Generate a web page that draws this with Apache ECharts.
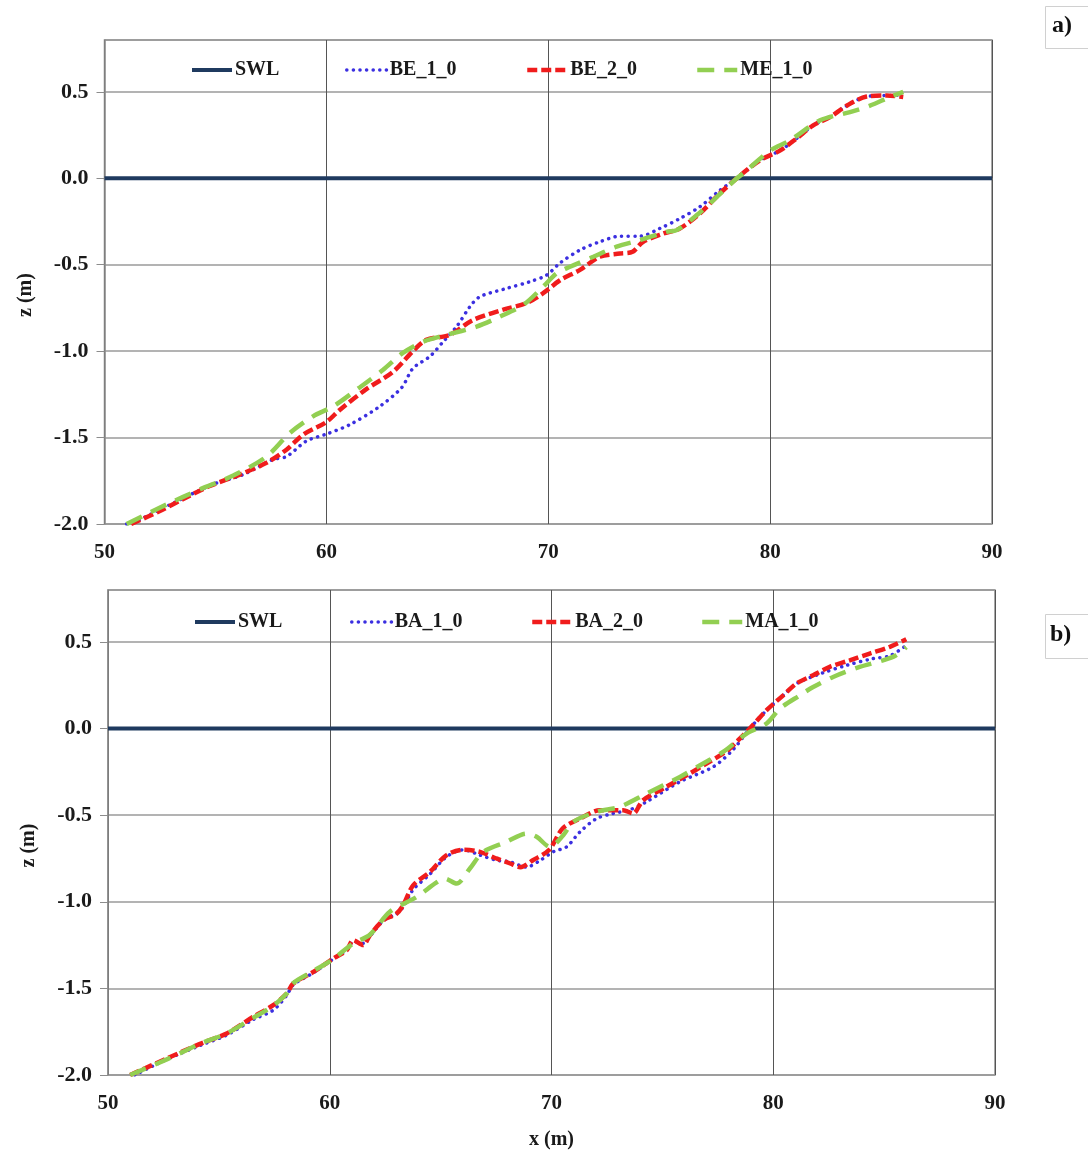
<!DOCTYPE html>
<html>
<head>
<meta charset="utf-8">
<script src="https://cdn.jsdelivr.net/npm/echarts@6/dist/echarts.min.js"></script>
<style>
html,body{margin:0;padding:0;background:#fff;}
#chart{width:1088px;height:1151px;}
</style>
</head>
<body>
<div id="chart"></div>
<script>
// ---------- data (a) ----------
const swlX = [50, 90];
const swlZ = [0, 0];

const be10X = [51.0, 51.5, 53.4, 54.9, 56.25, 57.6, 58.2, 59.1, 60.0, 61.06, 62.4, 63.4, 63.9, 64.67, 65.27, 65.87, 66.47, 66.92, 68.13, 69.18, 69.93, 70.53, 71.43, 72.33, 73.23, 74.13, 75.03, 75.93, 76.83, 77.73, 78.5, 79.54, 80.44, 81.19, 81.94, 82.7, 83.45, 84.35, 85.25, 86.0];
const be10Z = [-2.0, -1.98, -1.86, -1.77, -1.714, -1.627, -1.61, -1.52, -1.48, -1.425, -1.32, -1.21, -1.1, -1.03, -0.945, -0.858, -0.743, -0.685, -0.637, -0.598, -0.56, -0.49, -0.415, -0.367, -0.335, -0.335, -0.29, -0.233, -0.165, -0.07, 0.0, 0.104, 0.16, 0.23, 0.306, 0.354, 0.42, 0.473, 0.479, 0.48];

const be20X = [51.2, 52.5, 53.55, 54.75, 56.1, 57.3, 58.2, 58.96, 60.0, 60.6, 61.8, 63.0, 63.9, 64.5, 65.57, 66.6, 67.97, 69.0, 69.77, 70.53, 71.43, 72.33, 73.23, 73.8, 74.28, 75.18, 75.93, 76.83, 77.73, 78.5, 79.54, 80.44, 81.19, 81.94, 82.7, 83.45, 84.35, 85.25, 86.0];
const be20Z = [-2.0, -1.925, -1.855, -1.78, -1.714, -1.646, -1.57, -1.483, -1.41, -1.34, -1.22, -1.12, -1.0, -0.935, -0.905, -0.82, -0.76, -0.723, -0.665, -0.59, -0.53, -0.454, -0.435, -0.425, -0.367, -0.32, -0.29, -0.204, -0.088, 0.0, 0.104, 0.16, 0.23, 0.306, 0.354, 0.42, 0.473, 0.479, 0.47];

const me10X = [51.0, 52.8, 54.3, 55.8, 57.3, 58.36, 59.4, 60.3, 61.5, 62.56, 63.45, 64.37, 65.42, 66.77, 67.82, 68.87, 69.77, 70.38, 70.98, 72.03, 73.08, 74.13, 75.33, 75.79, 76.7, 77.6, 78.5, 78.8, 80.0, 80.9, 82.25, 83.6, 84.5, 85.4, 86.0];
const me10Z = [-2.0, -1.887, -1.80, -1.72, -1.61, -1.473, -1.377, -1.32, -1.21, -1.108, -1.01, -0.945, -0.906, -0.858, -0.80, -0.733, -0.627, -0.55, -0.512, -0.454, -0.396, -0.358, -0.31, -0.30, -0.213, -0.108, 0.0, 0.03, 0.16, 0.22, 0.335, 0.383, 0.42, 0.47, 0.5];

// ---------- data (b) ----------
const ba10X = [51.2, 52.65, 54.15, 55.35, 56.55, 57.45, 58.06, 58.35, 59.26, 60.16, 60.76, 61.06, 61.5, 61.81, 62.41, 63.0, 63.31, 63.76, 64.52, 65.27, 66.02, 66.77, 67.52, 68.14, 68.87, 69.5, 70.1, 70.68, 71.28, 72.03, 72.78, 73.5, 74.28, 75.78, 77.29, 78.2, 78.94, 79.7, 80.45, 81.05, 82.2, 83.3, 84.5, 85.25, 86.0];
const ba10Z = [-2.0, -1.91, -1.83, -1.77, -1.68, -1.626, -1.54, -1.48, -1.41, -1.33, -1.28, -1.23, -1.24, -1.2, -1.11, -1.07, -1.03, -0.93, -0.84, -0.74, -0.70, -0.73, -0.76, -0.77, -0.80, -0.76, -0.71, -0.683, -0.597, -0.52, -0.49, -0.47, -0.423, -0.308, -0.221, -0.12, 0.0, 0.106, 0.192, 0.26, 0.32, 0.365, 0.404, 0.42, 0.48];

const ba20X = [51.0, 52.65, 54.15, 55.35, 56.55, 57.45, 58.06, 58.35, 59.26, 60.16, 60.76, 61.06, 61.5, 61.81, 62.41, 63.0, 63.31, 63.76, 64.52, 65.27, 66.02, 66.77, 67.52, 68.14, 68.6, 69.16, 69.9, 70.5, 71.28, 72.18, 73.23, 73.68, 74.13, 75.04, 76.09, 76.99, 77.9, 78.42, 78.94, 79.7, 80.45, 81.05, 81.8, 82.55, 83.45, 84.35, 85.26, 86.0];
const ba20Z = [-2.0, -1.905, -1.82, -1.76, -1.664, -1.597, -1.53, -1.472, -1.405, -1.328, -1.28, -1.222, -1.25, -1.193, -1.107, -1.07, -1.02, -0.905, -0.827, -0.73, -0.70, -0.712, -0.75, -0.779, -0.80, -0.76, -0.70, -0.577, -0.52, -0.472, -0.472, -0.49, -0.414, -0.346, -0.27, -0.202, -0.13, -0.067, 0.0, 0.106, 0.192, 0.26, 0.308, 0.356, 0.394, 0.433, 0.472, 0.516];

const ma10X = [51.0, 52.65, 54.15, 55.35, 56.55, 57.45, 58.06, 58.35, 59.26, 60.16, 61.06, 61.81, 62.71, 63.92, 64.8, 65.19, 65.72, 66.32, 66.92, 67.97, 68.87, 69.33, 69.93, 70.53, 70.98, 72.03, 73.08, 74.29, 75.79, 76.7, 77.74, 78.8, 79.7, 80.3, 81.2, 81.8, 82.7, 83.9, 84.95, 85.5, 86.0];
const ma10Z = [-2.0, -1.91, -1.82, -1.76, -1.67, -1.6, -1.53, -1.47, -1.40, -1.33, -1.24, -1.19, -1.058, -0.972, -0.89, -0.866, -0.895, -0.808, -0.712, -0.654, -0.606, -0.625, -0.683, -0.616, -0.539, -0.481, -0.452, -0.375, -0.279, -0.212, -0.135, -0.029, 0.029, 0.115, 0.192, 0.24, 0.298, 0.356, 0.394, 0.42, 0.47];

const xTicks = [50, 60, 70, 80, 90];
const zTicks = [-2.0, -1.5, -1.0, -0.5, 0.0, 0.5];

// ---------- build ----------
const pair = (xs, zs) => xs.map((x, i) => [x, zs[i]]);
const FONT = 'Liberation Serif';
const txt = {fontFamily: FONT, fontWeight: 'bold', fontSize: 21, color: '#1a1a1a'};

const styles = {
  swl: {color: '#1f3a5f', lineStyle: {width: 4, type: 'solid', color: '#1f3a5f'}},
  b1: {color: '#3b2fe0', lineStyle: {width: 3.5, type: [0.1, 6.5], cap: 'round', color: '#3b2fe0'}},
  b2: {color: '#f01c1c', lineStyle: {width: 4.5, type: [10, 4], color: '#f01c1c'}},
  m1: {color: '#92cf52', lineStyle: {width: 4.5, type: [17, 10], color: '#92cf52'}}
};

function mkSeries(name, data, st, idx, smooth) {
  return Object.assign({
    name: name, type: 'line', xAxisIndex: idx, yAxisIndex: idx,
    data: data, showSymbol: false, symbol: 'none', smooth: smooth, animation: false
  }, JSON.parse(JSON.stringify(st)));
}

const grids = [
  {left: 104.5, top: 40, width: 887.5, height: 484},
  {left: 108, top: 590, width: 887, height: 486}
];

function xAx(i, withName) {
  return {
    type: 'value', gridIndex: i, min: 50, max: 90, interval: 10,
    axisLine: {show: true, lineStyle: {color: '#8c8c8c', width: 1.5}},
    axisTick: {show: false},
    axisLabel: Object.assign({margin: 18, formatter: v => xTicks.includes(v) ? String(v) : ''}, txt),
    splitLine: {show: true, lineStyle: {color: '#555', width: 1}},
    name: withName ? 'x (m)' : '', nameLocation: 'middle', nameGap: 55,
    nameTextStyle: Object.assign({}, txt, {fontSize: 20})
  };
}
function yAx(i) {
  return {
    type: 'value', gridIndex: i, min: -2.0, max: 0.8, interval: 0.5,
    axisLine: {show: true, lineStyle: {color: '#8c8c8c', width: 1.5}},
    axisTick: {show: true, length: 8, inside: false, lineStyle: {color: '#8c8c8c'}},
    axisLabel: Object.assign({margin: 16, showMaxLabel: false,
      formatter: v => zTicks.some(t => Math.abs(t - v) < 1e-6) ? v.toFixed(1) : ''}, txt, {fontSize: 22}),
    splitLine: {show: true, lineStyle: {color: '#9a9a9a', width: 1.5}},
    name: 'z (m)', nameLocation: 'middle', nameGap: 69, nameRotate: 90,
    nameTextStyle: Object.assign({}, txt, {fontSize: 20, padding: [0, 26, 0, 0]})
  };
}

const legendLineStyles = [styles.swl, styles.b1, styles.b2, styles.m1];
function legendsFor(names, lefts, top) {
  return names.map((n, k) => ({
    data: [n], left: lefts[k], top: top, orient: 'horizontal', padding: 0,
    itemWidth: 40, itemHeight: 12, selectedMode: false,
    itemStyle: {opacity: 0},
    lineStyle: {width: legendLineStyles[k].lineStyle.width, type: legendLineStyles[k].lineStyle.type,
                color: legendLineStyles[k].lineStyle.color, cap: legendLineStyles[k].lineStyle.cap || 'butt'},
    textStyle: {fontFamily: FONT, fontWeight: 'bold', fontSize: 20, color: '#1a1a1a', padding: [0, 0, 0, -2]}
  }));
}

const option = {
  backgroundColor: '#ffffff',
  animation: false,
  grid: grids.map(g => Object.assign({show: true, borderColor: '#8c8c8c', borderWidth: 1.5, backgroundColor: '#fff'}, g)),
  xAxis: [xAx(0, false), xAx(1, true)],
  yAxis: [yAx(0), yAx(1)],
  legend: [].concat(
    legendsFor(['SWL', 'BE_1_0', 'BE_2_0', 'ME_1_0'], [190, 345, 525, 695], 60),
    legendsFor(['SWL ', 'BA_1_0', 'BA_2_0', 'MA_1_0'], [193, 350, 530, 700], 612)
  ),
  series: [
    mkSeries('SWL', pair(swlX, swlZ), styles.swl, 0, false),
    mkSeries('BE_1_0', pair(be10X, be10Z), styles.b1, 0, 0.3),
    mkSeries('BE_2_0', pair(be20X, be20Z), styles.b2, 0, 0.3),
    mkSeries('ME_1_0', pair(me10X, me10Z), styles.m1, 0, 0.3),
    mkSeries('SWL ', pair(swlX, swlZ), styles.swl, 1, false),
    mkSeries('BA_1_0', pair(ba10X, ba10Z), styles.b1, 1, 0.3),
    mkSeries('BA_2_0', pair(ba20X, ba20Z), styles.b2, 1, 0.3),
    mkSeries('MA_1_0', pair(ma10X, ma10Z), styles.m1, 1, 0.3)
  ],
  graphic: [
    {type: 'rect', left: 1045, top: 6, shape: {width: 50, height: 42},
     style: {fill: '#fff', stroke: '#d0d0d0', lineWidth: 1}},
    {type: 'text', left: 1052, top: 14, style: {text: 'a)', font: 'bold 24px "Liberation Serif"', fill: '#111'}},
    {type: 'rect', left: 1045, top: 614, shape: {width: 50, height: 44},
     style: {fill: '#fff', stroke: '#d0d0d0', lineWidth: 1}},
    {type: 'text', left: 1050, top: 623, style: {text: 'b)', font: 'bold 24px "Liberation Serif"', fill: '#111'}}
  ]
};

const chart = echarts.init(document.getElementById('chart'), null, {renderer: 'canvas'});
chart.setOption(option);
</script>
</body>
</html>
